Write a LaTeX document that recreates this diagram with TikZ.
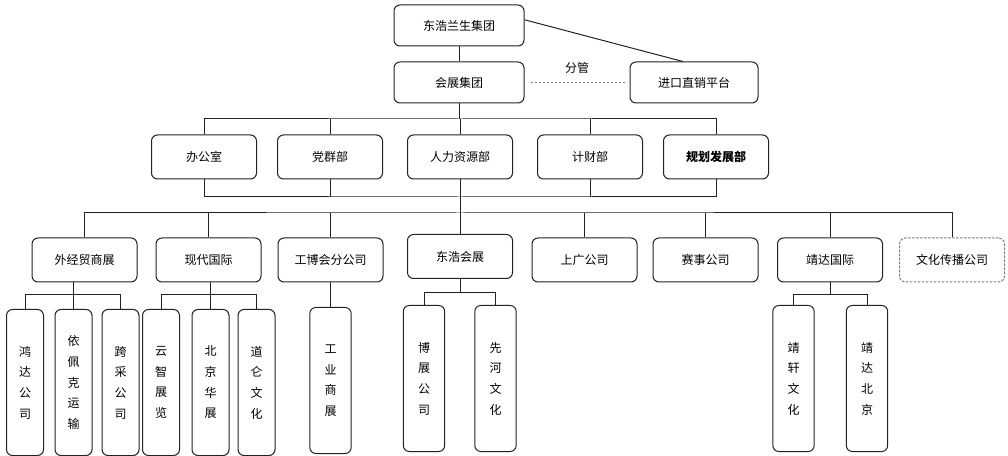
\documentclass[tikz,border=0pt]{standalone}
\usepackage{fontspec}
\usepackage{xcolor}
\usetikzlibrary{positioning}
\newfontfamily\cjk{Noto Sans CJK SC}
\definecolor{orgline}{HTML}{222222}

\begin{document}
\begin{tikzpicture}[
      x=0.75pt, y=-0.75pt,
      box/.style={draw=orgline, line width=0.75pt, rounded corners=4.5pt, fill=white, minimum width=78.75pt, minimum height=33pt, inner sep=1pt, align=center, font=\cjk\fontsize{9pt}{11pt}\selectfont},
      headbox/.style={box, minimum width=97.5pt, minimum height=30.75pt},
      tallbox/.style={box, anchor=north, minimum width=27.75pt, minimum height=109.5pt, font=\cjk\fontsize{9pt}{15.5pt}\selectfont},
      widebox/.style={minimum width=31pt},
      dashbox/.style={box, draw=gray, dash pattern=on 2pt off 1pt},
      line/.style={draw=orgline, line width=0.75pt}
    ]
      \useasboundingbox (0,0) rectangle (1008,456);

      \node[headbox] (dhls) at (459,25.5) {东浩兰生集团};
      \node[headbox] (hz) at (459,82.5) {会展集团};
      \node[headbox, minimum width=96pt] (jk) at (694,82.5) {进口直销平台};
      \node[font=\cjk\fontsize{9pt}{11pt}\selectfont] (fg) at (577,68) {分管};

      \node[box] (bgs) at (204,157) {办公室};
      \node[box] (dq) at (330,157) {党群部};
      \node[box] (rlzy) at (460,157) {人力资源部};
      \node[box] (jc) at (590,157) {计财部};
      \node[box] (ghfz) at (716,157) {\bfseries 规划发展部};

      \node[box] (wjm) at (84.5,260) {外经贸商展};
      \node[box] (xd) at (208.5,260) {现代国际};
      \node[box] (gbh) at (330.5,260) {工博会分公司};
      \node[box] (dhhz) at (460,256.5) {东浩会展};
      \node[box] (sg) at (584.5,260) {上广公司};
      \node[box] (ss) at (705.5,260) {赛事公司};
      \node[box] (jd) at (830,260) {靖达国际};
      \node[dashbox] (whcb) at (952,260) {文化传播公司};

      \node[tallbox] (hd) at (25,309) {鸿\\达\\公\\司};
      \node[tallbox] (ypk) at (73.5,309) {依\\佩\\克\\运\\输};
      \node[tallbox] (kc) at (120.5,309) {跨\\采\\公\\司};
      \node[tallbox] (yz) at (161,309) {云\\智\\展\\览};
      \node[tallbox] (bjhz) at (210.5,309) {北\\京\\华\\展};
      \node[tallbox] (dl) at (256.5,309) {道\\仑\\文\\化};
      \node[tallbox, widebox] (gysz) at (330.5,307) {工\\业\\商\\展};
      \node[tallbox, widebox] (bzgs) at (424,305) {博\\展\\公\\司};
      \node[tallbox, widebox] (xhwh) at (495.5,305) {先\\河\\文\\化};
      \node[tallbox, widebox] (jxwh) at (793.5,305) {靖\\轩\\文\\化};
      \node[tallbox, widebox] (jdbj) at (867,305) {靖\\达\\北\\京};

      \coordinate (bus2) at (460,119);
      \coordinate (bus2b) at (460,197);
      \coordinate (bus3) at (460,213);

      \draw[line] (dhls) -- (hz);
      \draw[line] (dhls.5) -- (jk.118);
      \draw[line, draw=gray, dash pattern=on 2pt off 1pt, shorten <=4.5pt, shorten >=2.25pt] (hz) -- (jk);

      \draw[line] (hz.south) -- (hz.south |- bus2);
      \draw[line] (bgs.north) |- (bus2) -| (ghfz.north);
      \foreach \n in {dq,rlzy,jc} \draw[line] (\n.north) -- (\n.north |- bus2);
      \draw[line] (bgs.south) |- (bus2b) -| (ghfz.south);
      \foreach \n in {dq,jc} \draw[line] (\n.south) -- (\n.south |- bus2b);
      \draw[line] (rlzy.south) -- (bus3);

      \draw[line] (wjm.north) |- (bus3) -| (whcb.north);
      \foreach \n in {xd,gbh,dhhz,sg,ss,jd} \draw[line] (\n.north) -- (\n.north |- bus3);

      \draw[line] (hd.north) -- ++(0,-14) -| (kc.north);
      \draw[line] (ypk.north) -- (ypk.north |- wjm.south);
      \draw[line] (yz.north) -- ++(0,-14) -| (dl.north);
      \draw[line] (bjhz.north) -- (bjhz.north |- xd.south);
      \draw[line] (gbh.south) -- (gysz.north);
      \draw[line] (bzgs.north) -- ++(0,-12) coordinate (dhbar) -| (xhwh.north);
      \draw[line] (dhhz.south) -- (dhhz.south |- dhbar);
      \draw[line] (jxwh.north) -- ++(0,-10) coordinate (jdbar) -| (jdbj.north);
      \draw[line] (jd.south) -- (jd.south |- jdbar);
    \end{tikzpicture}
\end{document}
